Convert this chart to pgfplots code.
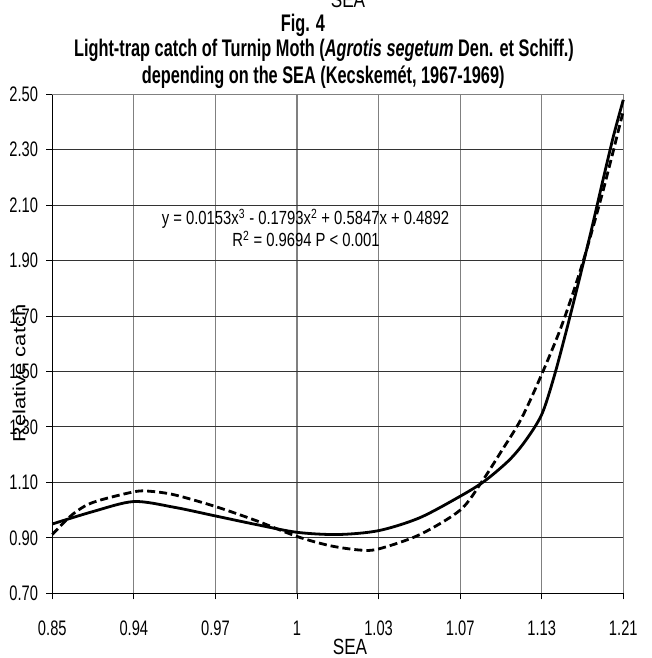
\documentclass[border=0pt]{standalone}
\usepackage{fontspec}
\usepackage{graphicx}
\usepackage{pgfplots}
\pgfplotsset{compat=1.18}
\setmainfont{Liberation Sans}[FakeStretch=0.78]
\newfontfamily\tickf{Liberation Sans}[FakeStretch=0.70]
\newfontfamily\titlef{Liberation Sans}[FakeStretch=0.68]
\newfontfamily\plainf{Liberation Sans}
\definecolor{gridgray}{RGB}{128,128,128}
\begin{document}
\begin{tikzpicture}
\path[use as bounding box] (-52.3pt,-64.7pt) rectangle (598.7pt,593.3pt);
\begin{axis}[
  at={(0pt,0pt)}, anchor=south west,
  scale only axis, width=571pt, height=499pt,
  xmin=0, xmax=7, ymin=0.7, ymax=2.5,
  xtick={0,1,2,3,4,5,6,7},
  xticklabels={0.85,0.94,0.97,1,1.03,1.07,1.13,1.21},
  ytick={0.7,0.9,1.1,1.3,1.5,1.7,1.9,2.1,2.3,2.5},
  yticklabels={0.70,0.90,1.10,1.30,1.50,1.70,1.90,2.10,2.30,2.50},
  /pgf/number format/assume math mode=true,
  axis x line*=bottom, axis y line*=left,
  axis line style={black, line width=1.3pt, -},
  tick align=outside, major tick length=6pt,
  every tick/.style={black, line width=1pt},
  xmajorgrids, ymajorgrids,
  x grid style={gridgray, line width=1.2pt},
  y grid style={black!80, line width=1pt},
  tick label style={font=\tickf\fontsize{21}{24}\selectfont},
  yticklabel style={anchor=east, inner sep=0pt, xshift=-8pt},
  xticklabel style={anchor=base, inner sep=0pt, yshift=-36pt},
  clip=false,
]
\draw[gridgray, line width=1.3pt] (rel axis cs:0,1) -- (rel axis cs:1,1) -- (rel axis cs:1,0);
\addplot[black, line width=2.8pt, smooth] coordinates {
(0,0.950) (0.5,0.995) (1,1.031) (1.5,1.010) (2,0.979) (2.5,0.948) (3,0.920) (3.5,0.912) (4,0.926) (4.5,0.972) (5,1.050) (5.3,1.105) (5.6,1.180) (5.8,1.250) (6,1.345) (6.15,1.480) (6.3,1.645) (6.45,1.820) (6.6,2.000) (6.75,2.190) (6.88,2.350) (7,2.480)
};
\addplot[black, line width=2.8pt, smooth, dash pattern=on 8pt off 4pt] coordinates {
(0,0.912) (0.25,0.985) (0.5,1.028) (1,1.066) (1.2,1.068) (1.5,1.055) (2,1.013) (2.5,0.962) (3,0.905) (3.4,0.872) (3.77,0.856) (4,0.860) (4.5,0.911) (5,1.0) (5.26,1.10) (5.5,1.21) (5.75,1.33) (6,1.49) (6.25,1.67) (6.5,1.89) (6.75,2.15) (7,2.44)
};
\end{axis}
% titles
\node[anchor=base, inner sep=0pt, font=\fontsize{22}{24}\selectfont] at (295.7pt,585.3pt) {SEA};
\node[anchor=base, inner sep=0pt, font=\titlef\bfseries\fontsize{24}{26}\selectfont] at (250.7pt,561.6pt) {Fig. 4};
\node[anchor=base, inner sep=0pt, font=\titlef\bfseries\fontsize{24}{26}\selectfont] at (271.7pt,536.3pt) {Light-trap catch of Turnip Moth (\textit{Agrotis segetum} Den. et Schiff.)};
\node[anchor=base, inner sep=0pt, font=\titlef\bfseries\fontsize{24}{26}\selectfont] at (270.9pt,510pt) {depending on the SEA (Kecskemét, 1967-1969)};
% equation
\node[anchor=base, inner sep=0pt, font=\fontsize{19}{22}\selectfont] at (253.2pt,368.3pt) {y = 0.0153x\textsuperscript{3} - 0.1793x\textsuperscript{2} + 0.5847x + 0.4892};
\node[anchor=base, inner sep=0pt, font=\fontsize{19}{22}\selectfont] at (253.7pt,346.6pt) {R\textsuperscript{2} = 0.9694 P < 0.001};
% axis labels
\node[anchor=base, inner sep=0pt, font=\fontsize{22}{24}\selectfont] at (297.7pt,-61.5pt) {SEA};
\node[rotate=90, inner sep=0pt, font=\plainf\fontsize{22}{24}\selectfont] at (-33.3pt,219.8pt) {\scalebox{1}[0.8]{Relative catch}};
\end{tikzpicture}
\end{document}
